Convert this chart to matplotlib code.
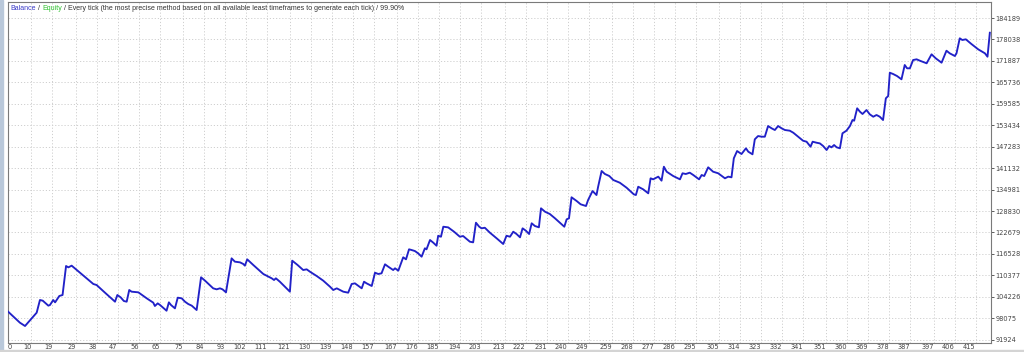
import matplotlib
matplotlib.use("Agg")
import matplotlib.pyplot as plt
from matplotlib.patches import Rectangle

# ---- data ----
trades = [0.0, 5.1, 7.3, 12.3, 13.7, 14.9, 17.3, 18.0, 19.4, 20.2, 22.0, 23.4, 24.9, 25.9, 27.3,
          36.6, 38.0, 41.6, 45.9, 46.9, 48.3, 49.7, 50.9, 52.0, 53.0, 55.9, 59.5, 62.3, 63.0,
          64.2, 65.2, 68.0, 69.0, 69.9, 71.6, 72.8, 74.5, 75.9, 77.3, 78.8, 80.9, 82.8, 84.5,
          88.0, 89.5, 90.9, 92.0, 93.5, 95.9, 97.3, 99.5, 100.9, 101.6, 102.6, 105.2, 109.5,
          110.9, 113.1, 114.1, 114.9, 116.6, 120.9, 121.9, 124.2, 126.6, 128.1, 129.5, 132.4,
          135.2, 138.1, 139.5, 141.0, 143.8, 145.9, 147.4, 148.8, 151.7, 152.7, 153.8, 156.0,
          157.4, 158.8, 160.2, 161.7, 163.1, 165.2, 166.0, 167.4, 169.5, 170.7, 172.0, 173.1,
          174.5, 175.9, 177.4, 178.8, 179.5, 181.0, 182.4, 183.8, 184.5, 185.7, 186.7, 188.8,
          191.3, 193.8, 195.2, 198.1, 199.5, 200.7, 202.1, 203.1, 204.5, 206.7, 209.6, 212.4,
          213.8, 215.3, 216.7, 218.1, 219.6, 220.7, 222.1, 223.5, 224.6, 226.0, 227.7, 228.6,
          230.3, 232.4, 234.6, 236.7, 238.6, 239.6, 240.6, 241.7, 243.9, 245.6, 247.9, 248.8,
          250.7, 252.4, 253.1, 254.6, 256.0, 257.9, 259.6, 262.4, 265.3, 268.4, 269.3, 270.3,
          272.4, 274.6, 275.6, 276.7, 278.9, 280.3, 281.3, 282.5, 285.3, 288.2, 289.3, 290.7,
          292.4, 293.9, 296.4, 297.5, 298.6, 300.3, 302.4, 304.6, 307.5, 308.9, 310.3, 311.3,
          312.7, 314.6, 316.5, 317.5, 319.3, 320.3, 321.7, 323.2, 324.6, 326.0, 327.5, 328.9,
          330.3, 331.8, 333.2, 335.3, 336.8, 338.9, 341.0, 342.5, 344.2, 345.1, 346.8, 348.2,
          349.6, 351.1, 352.2, 353.2, 354.3, 355.4, 356.8, 357.9, 359.6, 361.1, 362.2, 362.9,
          364.2, 365.4, 366.5, 368.2, 369.6, 371.1, 372.5, 373.9, 375.3, 376.5, 377.5, 378.2,
          379.6, 381.3, 383.2, 384.6, 385.6, 386.8, 388.2, 389.7, 391.1, 394.0, 396.1, 397.9,
          400.4, 402.5, 403.9, 406.1, 406.8, 408.2, 409.3, 410.8, 413.2, 416.1, 419.0, 420.1,
          421.1]
balance = [100000, 96810, 95855, 99680, 103310, 103120, 101690, 101880, 103310, 102640, 104460,
           104750, 113060, 112680, 113160, 107900, 107610, 105410, 102830, 104750, 104080, 103020,
           102830, 106180, 105700, 105510, 103790, 102550, 101590, 102350, 101880, 100240, 102640,
           101880, 100920, 103980, 103790, 102830, 102160, 101690, 100440, 109820, 108860, 106660,
           106370, 106660, 106370, 105510, 115260, 114310, 114110, 113640, 113160, 114970, 113350,
           110770, 110290, 109530, 109050, 109530, 108560, 105700, 114590, 113350, 111910, 112110,
           111430, 110190, 108860, 107130, 106180, 106660, 105700, 105410, 107900, 108090, 106660,
           108560, 108090, 107330, 111140, 110770, 110960, 113550, 112860, 111910, 112400, 111720,
           115560, 114970, 117850, 117650, 117360, 116700, 115740, 118140, 117850, 120520, 119750,
           118880, 121740, 121460, 124330, 124140, 122900, 121460, 121660, 120030, 119850, 125480,
           124330, 123870, 124040, 122610, 120990, 119370, 121740, 121460, 122900, 122240, 121290,
           123870, 123190, 122240, 125310, 124530, 124160, 129610, 128640, 127970, 126740, 125480,
           124330, 126450, 126740, 132770, 131700, 130760, 130270, 131990, 134570, 133420, 135800,
           140310, 139450, 138870, 137730, 136950, 135520, 133620, 133420, 135800, 135060, 133910,
           138210, 137920, 138690, 137540, 141540, 140110, 138870, 137920, 139650, 139450, 139830,
           139160, 137920, 139160, 138870, 141370, 140110, 139650, 138210, 138690, 138500, 143950,
           146040, 145180, 146820, 145850, 145100, 149400, 150340, 150150, 150150, 153210, 152550,
           152070, 153210, 152550, 152070, 151870, 151290, 150150, 148990, 148710, 147280, 148710,
           148420, 148230, 147480, 146330, 147480, 147100, 147760, 147100, 146820, 151120, 151870,
           153210, 154930, 154730, 158290, 157310, 156660, 157800, 156570, 155880, 156370, 155880,
           154930, 161160, 161820, 168500, 168130, 167550, 166610, 170710, 169760, 169760, 172140,
           172340, 171940, 171200, 173780, 172630, 171370, 174810, 174060, 173290, 174060, 178370,
           177880, 178080, 176730, 175210, 174060, 173090, 179970]

x_ticks = [0, 10, 19, 29, 38, 47, 56, 65, 75, 84, 93, 102, 111, 121, 130, 139, 148, 157, 167,
           176, 185, 194, 203, 213, 222, 231, 240, 249, 259, 268, 277, 286, 295, 305, 314, 323,
           332, 341, 351, 360, 369, 378, 387, 397, 406, 415]
y_ticks = [91924, 98075, 104226, 110377, 116528, 122679, 128830, 134981, 141132, 147283,
           153434, 159585, 165736, 171887, 178038, 184189]

title_parts = [("Balance", "#3a3ac8"), (" / ", "#333333"), ("Equity", "#2fc12f"),
               (" / Every tick (the most precise method based on all available least timeframes "
                "to generate each tick) / 99.90%", "#333333")]

# ---- figure ----
W, H = 1024, 352
fig = plt.figure(figsize=(W / 100, H / 100), dpi=100, facecolor="white")
L, R, B, T = 8, 991, 343, 2
ax = fig.add_axes([L / W, (H - B) / H, (R - L) / W, (B - T) / H])

ax.plot(trades, balance, color="#2121c8", lw=1.35, solid_joinstyle="round", zorder=3)

ax.set_xlim(0, 421.6)
ax.set_ylim(90980, 188780)

ax.set_xticks(x_ticks)
ax.set_xticklabels([str(v) for v in x_ticks])
ax.set_yticks(y_ticks)
ax.set_yticklabels([str(v) for v in y_ticks])
ax.yaxis.tick_right()

font = "DejaVu Sans"
title_font = "Liberation Sans"
ax.tick_params(axis="both", labelsize=4.8, colors="#444444", length=2, width=0.6,
               direction="out")
ax.tick_params(axis="x", pad=1, length=0)
ax.tick_params(axis="y", pad=1.2)
for i, lab in enumerate(ax.get_xticklabels()):
    lab.set_fontfamily(font)
    lab.set_ha("left" if i == 0 else "right")
for lab in ax.get_yticklabels():
    lab.set_fontfamily(font)

ax.grid(True, color="#cfcfcf", linestyle=(0, (1.2, 2.0)), lw=0.7, zorder=0)
for sp in ax.spines.values():
    sp.set_color("#7a7a7a")
    sp.set_linewidth(0.8)

# title pieces
prev = None
for s, c in title_parts:
    if prev is None:
        prev = ax.text(2.5 / (R - L), 1 - 6 / (B - T), s, transform=ax.transAxes, color=c,
                       fontsize=5.0, fontfamily=title_font, ha="left", va="center", zorder=5)
    else:
        prev = ax.annotate(s, xy=(1, 0), xycoords=prev, va="bottom", ha="left",
                           color=c, fontsize=5.0, fontfamily=title_font, zorder=5)

# window decorations
fig.patches.append(Rectangle((0, 0), 2.5 / W, 1, transform=fig.transFigure,
                             color="#b9c8da", zorder=0))
fig.patches.append(Rectangle((0, 0), 1, 2.5 / H, transform=fig.transFigure,
                             color="#d4d4d4", zorder=0))

fig.savefig("out.png", dpi=100, facecolor="white")
